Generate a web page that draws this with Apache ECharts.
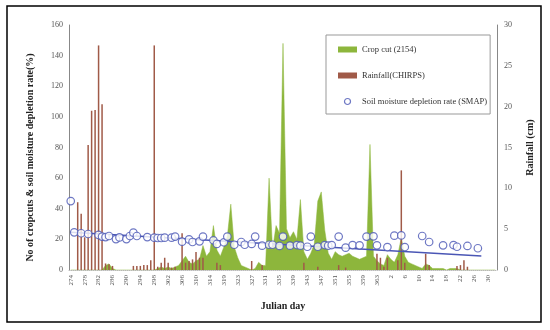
<!DOCTYPE html>
<html><head><meta charset="utf-8">
<script src="https://cdn.jsdelivr.net/npm/echarts@6/dist/echarts.min.js"></script>
<style>html,body{margin:0;padding:0;background:#fff}#c{width:550px;height:330px}</style>
</head><body><div id="c"></div>
<script>
// Julian day categories (day 316 absent in source)
const categories = ['274','275','276','277','278','279','280','281','282','283','284','285','286','287','288','289','290','291','292','293','294','295','296','297','298','299','300','301','302','303','304','305','306','307','308','309','310','311','312','313','314','315',
'317','318','319','320','321','322','323','324','325','326','327','328','329','330','331','332','333','334','335','336','337','338','339','340','341','342','343','344','345','346','347','348','349','350','351','352','353','354','355','356','357','358','359','360','361','362','363','364','365',
'1','2','3','4','5','6','7','8','9','10','11','12','13','14','15','16','17','18','19','20','21','22','23','24','25','26','27','28','29','30','31','32'];

// Crop cut counts (left axis), one per category
const cropCut = [0,0,0,0,0,0,0,0,0,0, 3,4,1, 0,0,0,0,0,0,0,0,0,0,0,0, 1,2,1,2,1, 2,3, 6,9,5, 4,6,7, 16,9,12, 29,13,9, 15,22,43, 15,8,3, 2,1,0,1, 5,3,3, 60,13,29, 24,148,27, 21,25,20, 46,12,7, 11,17,45, 51,26,11, 7,12,10, 9,10,11, 9,8,7, 8,9,82, 9,6,4, 3,10,7, 5,10,21, 9,5,4, 3,2,1, 4,3,1, 1,1,1,0,1,1, 1, 0,0,0,0,0,0,0,0,0,0,0];

// Rainfall (cm, right axis)
const rainDays = ['276','277','278','279','280','281','282','283','284','285','286','292','293','294','295','296','297','298','299','300','301','302','303','304','306','307','308','309','310','311','312','317','318','327','330','342','346','352','354','363','364','365','1','4','5','6','12','13','21','22','23','24'];
const rainValues = [8.3,6.9,4,15.3,19.5,19.6,27.5,20.3,0.8,0.7,0.5,0.5,0.5,0.5,0.6,0.6,1.2,27.5,0.4,0.9,1.5,0.9,0.3,0.4,4.5,0.9,1.1,1.3,2.2,1.5,1.5,0.9,0.6,1.1,0.6,0.9,0.4,0.6,0.3,2.0,1.5,0.4,1.5,1.2,12.2,0.9,2.0,0.6,0.5,0.6,1.2,0.4];

// Soil moisture depletion rate (%, left axis)
const soilDays = ['274','275','277','279','282','283','284','285','287','288','290','291','292','293','296','298','299','300','301','303','304','306','308','309','311','312','315','317','319','320','322','324','325','327','328','330','332','333','335','336','338','340','341','343','344','346','348','349','350','352','354','356','358','360','362','363','1','3','5','6','11','13','17','20','21','24','27'];
const soilValues = [45,24.6,24,23.5,22.9,21.8,21.5,22.2,20.2,21.3,20.2,22.2,24.4,22.2,21.5,21.1,20.9,20.9,21.1,21.1,21.8,18.5,20,18.3,18.7,21.8,19.4,17,18.1,21.8,16.5,18.3,16.5,17,21.8,15.9,16.5,16.5,15.7,21.8,15.9,16.3,15.9,15.2,21.8,15.2,16.3,15.9,16.3,21.8,14.6,16.3,16.1,21.8,22,16.1,15,22.4,22.6,15,22.2,18.3,16.1,16.3,15.2,15.7,14.2];

// Linear trend of soil moisture (end points)
const trendDays = ['274','28'];
const trendValues = [24.6,9.1];

const leftTicks = {min:0, max:160, interval:20};
const rightTicks = {min:0, max:30, interval:5};

const zip = (a,b) => a.map((d,i) => [d, b[i]]);

const F = 'Liberation Serif';
const GREEN = '#8db63c', BROWN = '#a05a48', BLUE = '#4a56b5';
const chart = echarts.init(document.getElementById('c'), null, {renderer:'canvas'});
chart.setOption({
  animation:false,
  textStyle:{fontFamily:F},
  grid:{left:69, right:53, top:25, bottom:60},
  graphic:[{type:'rect', shape:{x:7,y:6,width:534,height:316}, style:{fill:'none', stroke:'#000', lineWidth:1.5}, silent:true}],
  legend:{
    orient:'vertical', left:326, top:35, padding:[10,3,8,12],
    itemWidth:19, itemHeight:6, itemGap:17,
    borderColor:'#999', borderWidth:1,
    textStyle:{fontSize:8.5, color:'#333', fontFamily:F},
    data:[
      {name:'Crop cut (2154)', icon:'rect'},
      {name:'Rainfall(CHIRPS)', icon:'rect'},
      {name:'Soil moisture depletion rate (SMAP)', icon:'circle', itemStyle:{color:'#fff', borderColor:BLUE, borderWidth:1.2}}
    ]
  },
  xAxis:{
    type:'category', data:categories, boundaryGap:true,
    axisLine:{lineStyle:{color:'#bbb', type:'dotted'}},
    axisTick:{show:false},
    axisLabel:{interval:3, rotate:90, fontSize:7, color:'#555', fontFamily:F, margin:5},
    name:'Julian day', nameLocation:'middle', nameGap:31,
    nameTextStyle:{fontWeight:'bold', fontSize:10, color:'#222', fontFamily:F}
  },
  yAxis:[{
    type:'value', min:leftTicks.min, max:leftTicks.max, interval:leftTicks.interval,
    axisLine:{show:true, lineStyle:{color:'#888'}}, axisTick:{show:false}, splitLine:{show:false},
    axisLabel:{fontSize:8, color:'#555', margin:6, fontFamily:F},
    name:'No of cropcuts & soil moisture depletion rate(%)', nameLocation:'middle', nameGap:34, nameRotate:90,
    nameTextStyle:{fontWeight:'bold', fontSize:10, color:'#222', fontFamily:F, padding:[0,20,0,0]}
  },{
    type:'value', position:'right', min:rightTicks.min, max:rightTicks.max, interval:rightTicks.interval,
    axisLine:{show:true, lineStyle:{color:'#888'}}, axisTick:{show:false}, splitLine:{show:false},
    axisLabel:{fontSize:8, color:'#555', margin:7, fontFamily:F},
    name:'Rainfall (cm)', nameLocation:'middle', nameGap:28, nameRotate:90,
    nameTextStyle:{fontWeight:'bold', fontSize:10, color:'#222', fontFamily:F}
  }],
  series:[
    {name:'Crop cut (2154)', type:'line', data:cropCut, symbol:'none', lineStyle:{width:0.5, color:GREEN},
     areaStyle:{color:GREEN, opacity:1}, itemStyle:{color:GREEN}, z:1},
    {name:'Rainfall(CHIRPS)', type:'bar', yAxisIndex:1, data:zip(rainDays, rainValues), barWidth:1.5,
     itemStyle:{color:BROWN}, z:2},
    {name:'trend', type:'line', data:zip(trendDays, trendValues), symbol:'none',
     lineStyle:{color:BLUE, width:1.5}, z:3},
    {name:'Soil moisture depletion rate (SMAP)', type:'scatter', data:zip(soilDays, soilValues), symbol:'circle', symbolSize:7.5,
     itemStyle:{color:'#fff', borderColor:BLUE, borderWidth:1.2}, z:4}
  ]
});
</script></body></html>
